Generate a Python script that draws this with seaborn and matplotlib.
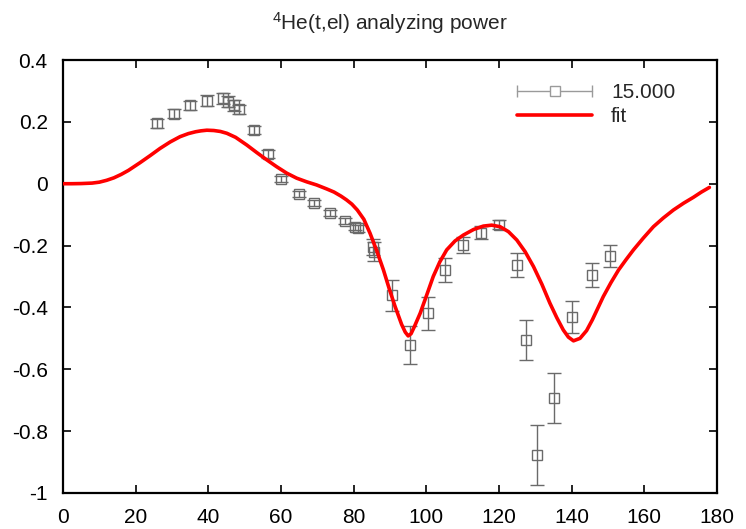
import matplotlib
matplotlib.use('Agg')
import matplotlib.pyplot as plt
import seaborn as sns
import pandas as pd
from matplotlib.lines import Line2D
from matplotlib.legend_handler import HandlerBase

# measured analyzing power (15.000)
angle = [26, 30.5, 35, 39.5, 44, 45.5, 47, 48.5, 52.5, 56.5, 60, 65, 69, 73.5, 77.5,
         80.5, 81.3, 85.2, 85.6, 90.5, 95.5, 100.5, 105, 110, 115, 120, 125, 127.5,
         130.5, 135, 140, 145.5, 150.5]
ay = [0.195, 0.227, 0.254, 0.268, 0.276, 0.265, 0.254, 0.240, 0.173, 0.096, 0.015,
      -0.033, -0.063, -0.096, -0.120, -0.139, -0.144, -0.204, -0.220, -0.360, -0.521,
      -0.419, -0.279, -0.198, -0.158, -0.133, -0.263, -0.505, -0.877, -0.693, -0.430,
      -0.295, -0.234]
ay_err = [0.015, 0.015, 0.015, 0.018, 0.018, 0.018, 0.018, 0.015, 0.012, 0.012, 0.01,
          0.01, 0.01, 0.01, 0.01, 0.012, 0.012, 0.025, 0.03, 0.05, 0.062, 0.054, 0.038,
          0.025, 0.02, 0.015, 0.038, 0.065, 0.097, 0.08, 0.052, 0.038, 0.035]

# fit curve
fit_x = [0, 2.4, 5, 8, 10, 12, 14, 16, 18, 21.2, 24, 26.7, 29.5, 32.2, 34.5, 36.5, 38,
         39.6, 41.5, 43.3, 45.1, 47.5, 50.6, 53.3, 56.1, 58.8, 61.6, 64.3, 67.1, 69.8,
         72.6, 74.6, 76.5, 78, 79.5, 81, 82.8, 84.5, 86.3, 88.2, 89.8, 91.4, 93.2, 94.2,
         95.0, 95.8, 96.6, 98.3, 100.1, 101.9, 103.7, 105.6, 107.9, 110.2, 113, 115.7,
         118, 120.3, 122.6, 124.9, 127.2, 129.5, 131.8, 134.0, 135.9, 137.7, 139.1,
         140.5, 142.3, 144.1, 145.7, 147.3, 148.7, 150.8, 152.9, 155, 157.0, 159.7,
         162.5, 165.2, 168.0, 170.8, 173.5, 175.7, 177.9]
fit_y = [0.0, 0.0, 0.0005, 0.002, 0.005, 0.011, 0.019, 0.030, 0.043, 0.068, 0.091,
         0.114, 0.135, 0.152, 0.162, 0.168, 0.171, 0.173, 0.172, 0.169, 0.163, 0.150,
         0.125, 0.101, 0.077, 0.055, 0.034, 0.018, 0.006, -0.004, -0.017, -0.027,
         -0.040, -0.052, -0.066, -0.085, -0.115, -0.160, -0.215, -0.279, -0.340,
         -0.397, -0.455, -0.480, -0.492, -0.485, -0.465, -0.419, -0.360, -0.300,
         -0.253, -0.214, -0.185, -0.166, -0.148, -0.137, -0.134, -0.139, -0.155,
         -0.182, -0.220, -0.268, -0.325, -0.386, -0.433, -0.473, -0.496, -0.508,
         -0.500, -0.475, -0.440, -0.400, -0.365, -0.320, -0.279, -0.245, -0.214,
         -0.176, -0.139, -0.111, -0.085, -0.063, -0.044, -0.027, -0.012]

xticks = [0, 20, 40, 60, 80, 100, 120, 140, 160, 180]
yticks = [0.4, 0.2, 0, -0.2, -0.4, -0.6, -0.8, -1]
ylabels = ['0.4', '0.2', '0', '-0.2', '-0.4', '-0.6', '-0.8', '-1']

sns.set_theme(style='ticks')
plt.rcParams['font.family'] = ['Liberation Sans', 'DejaVu Sans']
plt.rcParams['mathtext.default'] = 'regular'
plt.rcParams['axes.unicode_minus'] = False

fig = plt.figure(figsize=(7.46, 5.29), dpi=100)
ax = fig.add_axes([63 / 746, 1 - 493 / 529, 654 / 746, 433 / 529])

gray = '#6a6a6a'
ax.errorbar(angle, ay, yerr=ay_err, fmt='s', color=gray, mfc='none', mec=gray,
            ms=7, mew=1.0, elinewidth=1.0, capsize=5, capthick=1.0, zorder=2)

fit = pd.DataFrame({'x': fit_x, 'y': fit_y})
sns.lineplot(data=fit, x='x', y='y', color='red', linewidth=2.6, ax=ax, zorder=3,
             sort=False)

ax.set_xlim(0, 180)
ax.set_ylim(-1, 0.4)
ax.set_xticks(xticks)
ax.set_xticklabels([str(t) for t in xticks])
ax.set_yticks(yticks)
ax.set_yticklabels(ylabels)
ax.set_xlabel('')
ax.set_ylabel('')
ax.tick_params(direction='in', length=6, width=1.2, labelsize=15, colors='black',
               top=True, right=True, pad=11)
for s in ax.spines.values():
    s.set_linewidth(1.6)
    s.set_color('black')

ax.set_title('$^{4}$He(t,el) analyzing power', fontsize=15, pad=22)


class GnuErrHandler(HandlerBase):
    def create_artists(self, legend, orig, xd, yd, w, h, fs, trans):
        y = h / 2 - yd
        x0 = -xd
        c = '#9a9a9a'
        a = Line2D([x0, x0 + w], [y, y], color=c, lw=1.0, transform=trans)
        b = Line2D([x0, x0 + w], [y, y], color=c, ls='', marker='|', ms=9, mew=1.0,
                   transform=trans)
        m = Line2D([x0 + w / 2], [y], color=c, ls='', marker='s', ms=7, mfc='white',
                   mec=c, mew=1.0, transform=trans)
        return [a, b, m]


h_data = Line2D([], [], color=gray)
h_fit = Line2D([], [], color='red', lw=2.6)
ax.legend([h_data, h_fit], ['15.000', 'fit'], handler_map={h_data: GnuErrHandler()},
          loc='upper right', bbox_to_anchor=(0.965, 0.99), frameon=False,
          fontsize=15, handlelength=3.6, handletextpad=0.9, labelspacing=0.25)

fig.savefig('out.png', dpi=100)
